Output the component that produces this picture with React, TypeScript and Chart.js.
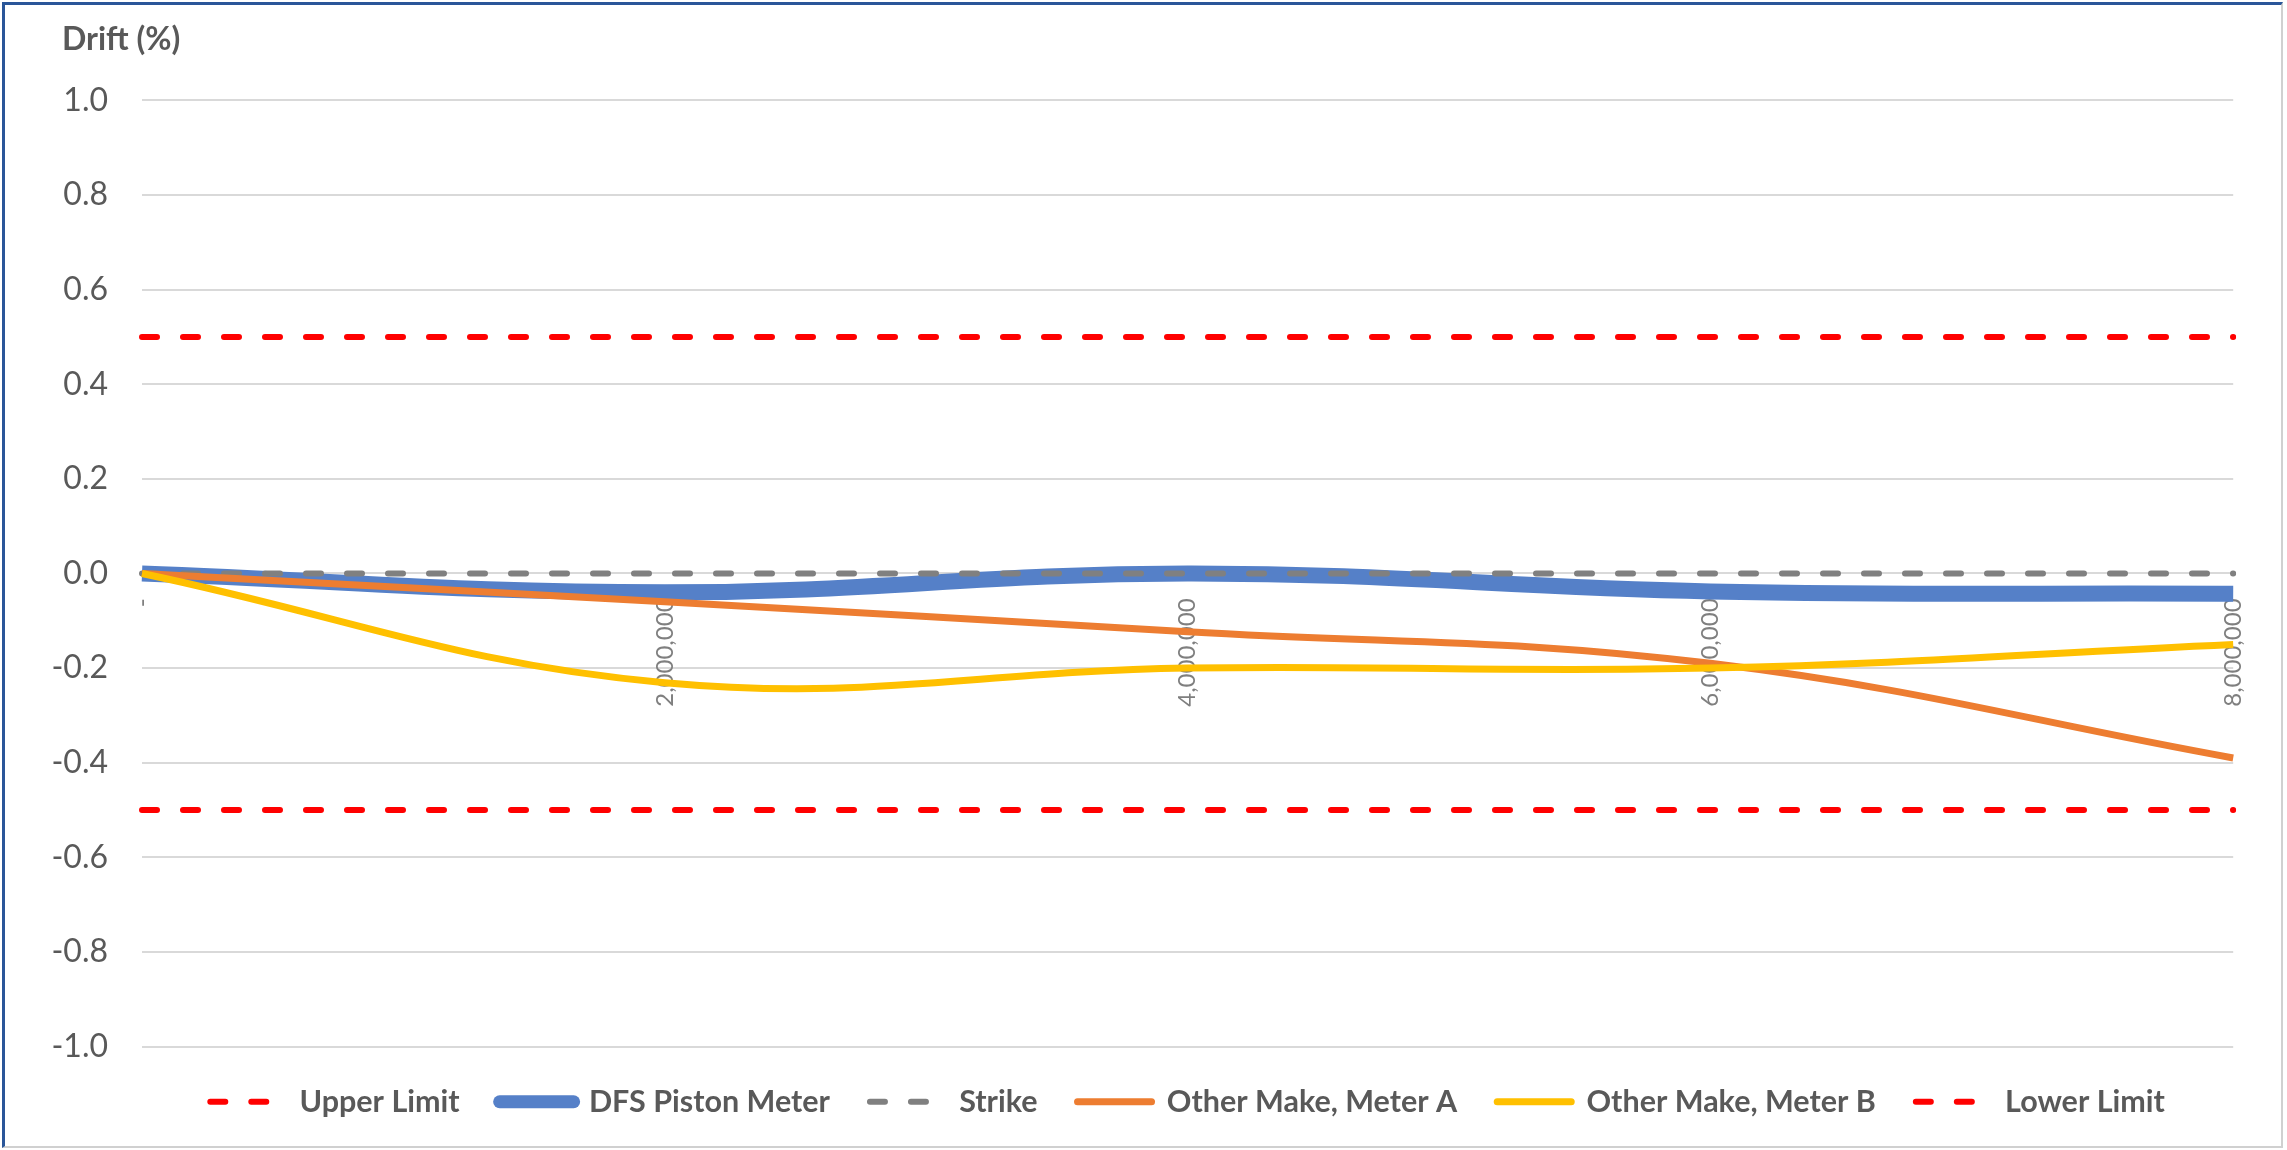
import React, { useEffect, useRef } from "react";
import { Chart, registerables } from "chart.js";

Chart.register(...registerables);

const categories = ["-", "2,000,000", "4,000,000", "6,000,000", "8,000,000"];
const upperLimit = [0.5, 0.5, 0.5, 0.5, 0.5];
const dfsPistonMeter = [0.0, -0.04, 0.0, -0.038, -0.043];
const strike = [0, 0, 0, 0, 0];
const meterA = [0.0, -0.06, -0.123, -0.19, -0.39];
const meterB = [0.0, -0.231, -0.2, -0.2, -0.15];
const lowerLimit = [-0.5, -0.5, -0.5, -0.5, -0.5];
const yTicks = { min: -1, max: 1, step: 0.2 };

const FONT = "Lato, 'Open Sans', 'DejaVu Sans', sans-serif";

// widen only the clip box of the y-axis labels so that the minus signs are not cut off
const yLabelRoom = {
  id: "yLabelRoom",
  afterLayout(chart: any) {
    const y = chart.scales.y;
    if (y) y.left = 0;
  },
};

export default function App() {
  const ref = useRef<HTMLCanvasElement | null>(null);

  useEffect(() => {
    if (!ref.current) return;
    const chart = new Chart(ref.current, {
      type: "line",
      data: {
        labels: categories,
        datasets: [
          {
            label: "Upper Limit",
            data: upperLimit,
            borderColor: "#FF0000",
            backgroundColor: "#FF0000",
            borderWidth: 6,
            borderDash: [15, 26],
            borderCapStyle: "round",
            pointRadius: 0,
            order: 5,
          },
          {
            label: "DFS Piston Meter",
            data: dfsPistonMeter,
            borderColor: "#5580C8",
            backgroundColor: "#5580C8",
            borderWidth: 16,
            borderCapStyle: "butt",
            tension: 0.4,
            pointRadius: 0,
            order: 4,
          },
          {
            label: "Strike",
            data: strike,
            borderColor: "#808080",
            backgroundColor: "#808080",
            borderWidth: 6,
            borderDash: [15, 26],
            borderCapStyle: "round",
            pointRadius: 0,
            order: 3,
          },
          {
            label: "Other Make, Meter A",
            data: meterA,
            borderColor: "#ED7D31",
            backgroundColor: "#ED7D31",
            borderWidth: 7,
            borderCapStyle: "butt",
            tension: 0.4,
            pointRadius: 0,
            order: 2,
          },
          {
            label: "Other Make, Meter B",
            data: meterB,
            borderColor: "#FFC000",
            backgroundColor: "#FFC000",
            borderWidth: 7,
            borderCapStyle: "butt",
            tension: 0.4,
            pointRadius: 0,
            order: 1,
          },
          {
            label: "Lower Limit",
            data: lowerLimit,
            borderColor: "#FF0000",
            backgroundColor: "#FF0000",
            borderWidth: 6,
            borderDash: [15, 26],
            borderCapStyle: "round",
            pointRadius: 0,
            order: 0,
          },
        ],
      },
      options: {
        animation: false,
        responsive: false,
        layout: { padding: { left: 62, right: 49, top: 0, bottom: 23 } },
        plugins: {
          title: {
            display: true,
            text: "Drift (%)",
            align: "start",
            color: "#595959",
            font: { family: FONT, size: 32, weight: "bold" },
            padding: { top: 20, bottom: 42 },
          },
          legend: {
            position: "bottom",
            fullSize: false,
            labels: {
              usePointStyle: true,
              pointStyle: "line",
              pointStyleWidth: 74,
              color: "#595959",
              font: { family: FONT, size: 30.5, weight: "bold" },
              padding: 40,
              sort: (a: any, b: any) => a.datasetIndex - b.datasetIndex,
              generateLabels: (c: any) => {
                const items = Chart.defaults.plugins.legend.labels.generateLabels(c);
                items.forEach((it: any) => {
                  const ds: any = c.data.datasets[it.datasetIndex];
                  it.lineDash = ds.borderDash || [];
                  it.lineCap = "round";
                  it.lineWidth = Math.min(ds.borderWidth, 13);
                  it.strokeStyle = ds.borderColor;
                  it.fillStyle = ds.borderColor;
                });
                return items;
              },
            },
          },
          tooltip: { enabled: false },
        },
        scales: {
          x: {
            type: "category",
            position: { y: 0 } as any,
            offset: false,
            grid: { display: false, drawTicks: false },
            border: { display: false },
            ticks: {
              minRotation: 90,
              maxRotation: 90,
              autoSkip: false,
              padding: 25,
              color: "#7F7F7F",
              font: { family: FONT, size: 24 },
            },
          },
          y: {
            min: yTicks.min,
            max: yTicks.max,
            afterFit: (s: any) => {
              s.width = 80;
            },
            grid: { color: "#D9D9D9", lineWidth: 2, drawTicks: false },
            border: { display: false },
            ticks: {
              stepSize: yTicks.step,
              padding: 34,
              color: "#595959",
              font: { family: FONT, size: 32 },
              callback: (v: any) => (Math.abs(Number(v)) < 1e-9 ? 0 : Number(v)).toFixed(1),
            },
          },
        },
      },
      plugins: [yLabelRoom],
    });
    return () => chart.destroy();
  }, []);

  return (
    <div style={{ position: "absolute", left: 0, top: 0, width: 2287, height: 1150, background: "#fff" }}>
      <canvas ref={ref} width={2287} height={1150} style={{ display: "block", width: 2287, height: 1150 }} />
      <div
        style={{
          position: "absolute",
          left: 2,
          top: 2,
          width: 2281,
          height: 1146,
          boxSizing: "border-box",
          borderTop: "3px solid #2A5699",
          borderLeft: "3px solid #2A5699",
          borderRight: "2px solid #D0D0D0",
          borderBottom: "2px solid #D0D0D0",
          pointerEvents: "none",
        }}
      />
    </div>
  );
}
